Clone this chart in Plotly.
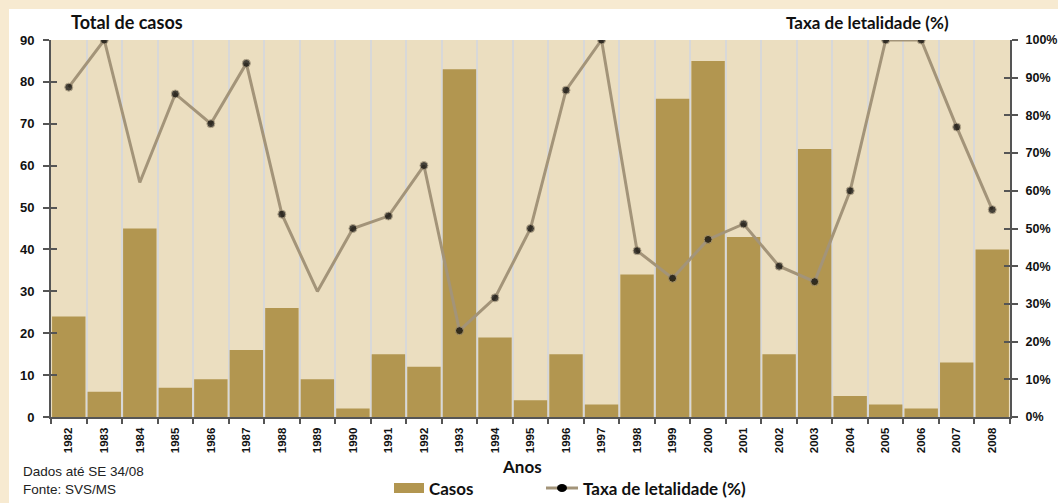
import plotly.graph_objects as go

anos = [str(y) for y in range(1982, 2009)]
casos = [24, 6, 45, 7, 9, 16, 26, 9, 2, 15, 12, 83, 19, 4, 15, 3, 34, 76, 85, 43, 15, 64, 5, 3, 2, 13, 40]
letalidade = [87.5, 100, 62.2, 85.7, 77.8, 93.8, 53.8, 33.3, 50.0, 53.3, 66.7, 22.9, 31.6, 50.0, 86.7,
              100, 44.1, 36.8, 47.1, 51.2, 40.0, 35.9, 60.0, 100, 100, 76.9, 55.0]
sem_marcador = ["1984", "1989"]

BAR = "#b29650"
LINE = "#a39479"
PLOT_BG = "#ebdec0"
BEIGE = "#f7ead1"
AXIS = "#555555"

L, R, T, B = 51, 48, 40, 86
W, H = 1058, 503
PW, PH = W - L - R, H - T - B


def px(x):
    return (x - L) / PW


def py(y):
    return (H - B - y) / PH


fig = go.Figure()
fig.add_trace(go.Bar(x=anos, y=casos, marker=dict(color=BAR, line=dict(width=0)),
                     name="Casos", showlegend=False, yaxis="y"))
fig.add_trace(go.Scatter(x=anos, y=letalidade, mode="lines+markers", yaxis="y2",
                         line=dict(color=LINE, width=3),
                         marker=dict(color="black",
                                     size=[0 if a in sem_marcador else 8 for a in anos]),
                         name="Taxa de letalidade (%)", showlegend=False))

tickfont = dict(family="Liberation Sans", size=13, color="#111111", weight="bold")
tickfont_r = dict(family="Liberation Sans", size=12.5, color="#111111", weight="bold")

fig.update_layout(
    width=W, height=H,
    margin=dict(l=L, r=R, t=T, b=B, autoexpand=False),
    paper_bgcolor="white",
    plot_bgcolor=PLOT_BG,
    bargap=0.06,
    xaxis=dict(type="category", tickson="boundaries", ticks="outside", ticklen=5,
               tickwidth=2, tickcolor=AXIS, showline=True, linecolor=AXIS, linewidth=2,
               showgrid=True, gridcolor="#d8d8d8", gridwidth=2, tickangle=-90,
               tickfont=dict(family="Liberation Sans", size=11.5, color="#111111", weight="bold"),
               range=[-0.5, 26.5], automargin=False, ticklabelstandoff=4),
    yaxis=dict(range=[0, 90], dtick=10, showgrid=False, zeroline=False, showline=True,
               linecolor=AXIS, linewidth=2, ticks="outside", ticklen=6, tickwidth=2,
               tickcolor=AXIS, tickfont=tickfont, automargin=False, ticklabelstandoff=6),
    yaxis2=dict(range=[0, 100], dtick=10, overlaying="y", side="right", showgrid=False,
                zeroline=False, showline=True, linecolor=AXIS, linewidth=2,
                ticks="outside", ticklen=6, tickwidth=2, tickcolor=AXIS,
                ticksuffix="%", tickfont=tickfont_r, automargin=False, ticklabelstandoff=5),
    yaxis3=dict(range=[0, 90], dtick=10, overlaying="y", side="left", showgrid=False,
                zeroline=False, showline=False, ticks="inside", ticklen=6, tickwidth=2,
                tickcolor=AXIS, showticklabels=False, automargin=False),
    yaxis4=dict(range=[0, 100], dtick=10, overlaying="y", side="right", showgrid=False,
                zeroline=False, showline=False, ticks="inside", ticklen=6, tickwidth=2,
                tickcolor=AXIS, showticklabels=False, automargin=False),
    showlegend=False,
)
fig.add_trace(go.Scatter(x=[anos[0]], y=[0], yaxis="y3", mode="markers",
                         marker=dict(opacity=0), hoverinfo="skip", showlegend=False))
fig.add_trace(go.Scatter(x=[anos[0]], y=[0], yaxis="y4", mode="markers",
                         marker=dict(opacity=0), hoverinfo="skip", showlegend=False))

# beige frame (top and left strips)
fig.add_shape(type="rect", xref="paper", yref="paper", x0=px(0), x1=px(9), y0=py(H), y1=py(0),
              fillcolor=BEIGE, line=dict(width=0), layer="below")
fig.add_shape(type="rect", xref="paper", yref="paper", x0=px(0), x1=px(W), y0=py(9), y1=py(0),
              fillcolor=BEIGE, line=dict(width=0), layer="below")

title_font = dict(family="Lato", size=17, color="#111111")
fig.add_annotation(text="<b>Total de casos</b>", xref="paper", yref="paper", x=px(69), y=py(22),
                   xanchor="left", yanchor="middle", showarrow=False,
                   font=dict(family="Lato", size=18, color="#111111"))
fig.add_annotation(text="<b>Taxa de letalidade (%)</b>", xref="paper", yref="paper", x=px(784),
                   y=py(22), xanchor="left", yanchor="middle", showarrow=False, font=title_font)
fig.add_annotation(text="<b>Anos</b>", xref="paper", yref="paper", x=px(522), y=py(466),
                   xanchor="center", yanchor="middle", showarrow=False, font=title_font)
fig.add_annotation(text="Dados até SE 34/08<br>Fonte: SVS/MS", xref="paper", yref="paper",
                   x=px(21), y=py(480), xanchor="left", yanchor="middle", align="left",
                   showarrow=False,
                   font=dict(family="Liberation Sans", size=13.5, color="#222222"))

# legend (manual)
fig.add_shape(type="rect", xref="paper", yref="paper", x0=px(394), x1=px(424), y0=py(493),
              y1=py(483), fillcolor=BAR, line=dict(width=0))
fig.add_annotation(text="<b>Casos</b>", xref="paper", yref="paper", x=px(427), y=py(488),
                   xanchor="left", yanchor="middle", showarrow=False, font=title_font)
fig.add_shape(type="line", xref="paper", yref="paper", x0=px(546), x1=px(578), y0=py(488),
              y1=py(488), line=dict(color=LINE, width=3))
fig.add_shape(type="circle", xref="paper", yref="paper", x0=px(557), x1=px(567), y0=py(492),
              y1=py(484), fillcolor="black", line=dict(width=0))
fig.add_annotation(text="<b>Taxa de letalidade (%)</b>", xref="paper", yref="paper", x=px(581),
                   y=py(488), xanchor="left", yanchor="middle", showarrow=False, font=title_font)

fig.write_html("out.html", config={"displayModeBar": False},
               post_script="document.body.style.margin='0';document.body.style.overflow='hidden';")
